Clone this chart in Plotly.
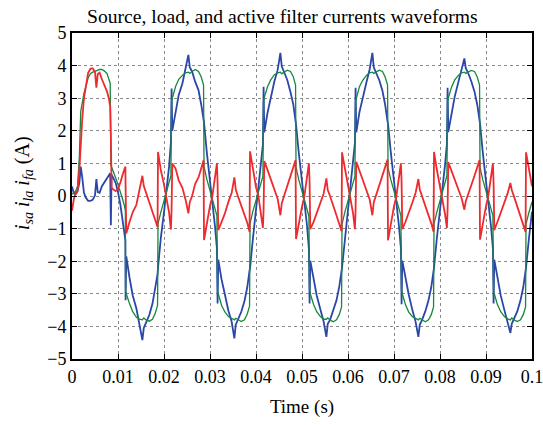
import plotly.graph_objects as go

# ---- data (time in s, currents in A) ----
t_start = [0.0000, 0.0004, 0.0008, 0.0012, 0.0016, 0.0019, 0.0022, 0.0026, 0.0030, 0.0035,
           0.0040, 0.0045, 0.0050, 0.0053, 0.0056, 0.0060, 0.0065, 0.0070, 0.0076, 0.0080,
           0.0083, 0.00845, 0.0086, 0.0090, 0.0095, 0.0100, 0.0105, 0.0110, 0.0114, 0.0116]
load_start = [0.05, 0.10, 0.15, 0.30, 1.20, 2.60, 2.90, 3.15, 3.35, 3.62,
              3.75, 3.80, 3.82, 3.84, 3.86, 3.88, 3.88, 3.84, 3.76, 3.62,
              3.46, 0.95, 0.90, 0.75, 0.55, 0.35, 0.15, -0.10, -0.30, -0.45]
source_start = [0.29, 0.08, 0.05, 0.15, 0.40, 0.90, 0.60, 0.10, -0.05, -0.15,
                -0.15, -0.12, 0.02, 0.52, 0.12, 0.10, 0.30, 0.42, 0.55, 0.62,
                0.70, -0.90, 0.65, 0.55, 0.40, 0.12, -0.25, -0.75, -1.15, -1.35]
filter_start = [-0.45, -0.10, 0.10, 0.15, 0.80, 1.70, 2.30, 3.00, 3.40, 3.77,
                3.90, 3.92, 3.80, 3.32, 3.74, 3.78, 3.58, 3.42, 3.21, 3.00,
                2.76, 1.85, 0.25, 0.20, 0.15, 0.23, 0.40, 0.65, 0.85, 0.90]

t_steady = [
    0.01165, 0.0118, 0.0125, 0.0132, 0.0140, 0.0147, 0.0153, 0.0156, 0.0161, 0.0168, 0.0175, 0.0181, 0.0186,
    0.0187, 0.0193, 0.0200, 0.0205, 0.0211, 0.0215, 0.02165, 0.0218, 0.0225, 0.0232, 0.0240, 0.0247, 0.0253, 0.0256, 0.0261, 0.0268, 0.0275, 0.0281, 0.0286,
    0.0287, 0.0293, 0.0300, 0.0305, 0.0311, 0.0315, 0.03165, 0.0318, 0.0325, 0.0332, 0.0340, 0.0347, 0.0353, 0.0356, 0.0361, 0.0368, 0.0375, 0.0381, 0.0386,
    0.0387, 0.0393, 0.0400, 0.0405, 0.0411, 0.0415, 0.04165, 0.0418, 0.0425, 0.0432, 0.0440, 0.0447, 0.0453, 0.0456, 0.0461, 0.0468, 0.0475, 0.0481, 0.0486,
    0.0487, 0.0493, 0.0500, 0.0505, 0.0511, 0.0515, 0.05165, 0.0518, 0.0525, 0.0532, 0.0540, 0.0547, 0.0553, 0.0556, 0.0561, 0.0568, 0.0575, 0.0581, 0.0586,
    0.0587, 0.0593, 0.0600, 0.0605, 0.0611, 0.0615, 0.06165, 0.0618, 0.0625, 0.0632, 0.0640, 0.0647, 0.0653, 0.0656, 0.0661, 0.0668, 0.0675, 0.0681, 0.0686,
    0.0687, 0.0693, 0.0700, 0.0705, 0.0711, 0.0715, 0.07165, 0.0718, 0.0725, 0.0732, 0.0740, 0.0747, 0.0753, 0.0756, 0.0761, 0.0768, 0.0775, 0.0781, 0.0786,
    0.0787, 0.0793, 0.0800, 0.0805, 0.0811, 0.0815, 0.08165, 0.0818, 0.0825, 0.0832, 0.0840, 0.0847, 0.0853, 0.0856, 0.0861, 0.0868, 0.0875, 0.0881, 0.0886,
    0.0887, 0.0893, 0.0900, 0.0905, 0.0911, 0.0915, 0.09165, 0.0918, 0.0925, 0.0932, 0.0940, 0.0947, 0.0953, 0.0956, 0.0961, 0.0968, 0.0975, 0.0981, 0.0986,
    0.0987, 0.0993, 0.1000]

load_steady = [
    -2.90, -3.00, -3.30, -3.55, -3.72, -3.78, -3.80, -3.74, -3.80, -3.84, -3.78, -3.60, -3.35,
    -0.85, -0.50, -0.15, 0.10, 0.40, 0.62, 2.90, 3.00, 3.35, 3.58, 3.70, 3.78, 3.80, 3.76, 3.82, 3.88, 3.82, 3.65, 3.40,
    0.90, 0.52, 0.15, -0.10, -0.40, -0.60, -2.90, -3.00, -3.35, -3.55, -3.70, -3.76, -3.80, -3.75, -3.80, -3.85, -3.80, -3.62, -3.38,
    -0.85, -0.48, -0.15, 0.12, 0.40, 0.60, 2.92, 3.02, 3.35, 3.56, 3.72, 3.78, 3.80, 3.75, 3.80, 3.86, 3.82, 3.66, 3.40,
    0.88, 0.50, 0.15, -0.12, -0.40, -0.62, -2.88, -3.00, -3.32, -3.55, -3.70, -3.78, -3.78, -3.74, -3.80, -3.86, -3.80, -3.64, -3.40,
    -0.86, -0.50, -0.14, 0.10, 0.42, 0.60, 2.90, 3.00, 3.36, 3.55, 3.70, 3.78, 3.80, 3.76, 3.80, 3.86, 3.82, 3.64, 3.40,
    0.86, 0.50, 0.14, -0.10, -0.42, -0.60, -2.90, -3.00, -3.34, -3.56, -3.70, -3.76, -3.80, -3.75, -3.80, -3.86, -3.80, -3.64, -3.40,
    -0.85, -0.50, -0.16, 0.10, 0.40, 0.62, 2.90, 3.00, 3.34, 3.56, 3.70, 3.78, 3.80, 3.76, 3.80, 3.85, 3.82, 3.65, 3.40,
    0.88, 0.50, 0.15, -0.10, -0.40, -0.60, -2.90, -3.00, -3.34, -3.55, -3.70, -3.77, -3.80, -3.74, -3.80, -3.85, -3.80, -3.64, -3.40,
    -0.86, -0.52, -0.18]

source_steady = [
    -3.20, -1.85, -2.50, -3.05, -3.45, -3.95, -4.42, -4.05, -3.90, -3.65, -3.30, -2.85, -2.40,
    -2.20, -1.30, -0.50, 0.12, 0.90, 1.65, 3.30, 2.00, 2.50, 3.10, 3.45, 3.90, 4.33, 3.95, 3.82, 3.50, 3.25, 2.80, 2.30,
    2.25, 1.35, 0.45, -0.08, -0.95, -1.60, -3.30, -1.95, -2.55, -3.00, -3.52, -3.85, -4.37, -3.95, -3.78, -3.55, -3.22, -2.80, -2.28,
    -2.22, -1.35, -0.42, 0.10, 0.98, 1.58, 3.35, 1.95, 2.55, 3.02, 3.52, 3.86, 4.39, 3.98, 3.80, 3.56, 3.18, 2.82, 2.30,
    2.20, 1.32, 0.48, -0.10, -0.92, -1.62, -3.30, -1.98, -2.52, -3.05, -3.48, -3.85, -4.32, -3.92, -3.80, -3.52, -3.20, -2.78, -2.32,
    -2.20, -1.38, -0.45, 0.08, 0.95, 1.62, 3.32, 1.95, 2.58, 3.05, 3.48, 3.88, 4.39, 3.95, 3.78, 3.55, 3.22, 2.78, 2.28,
    2.22, 1.35, 0.45, -0.08, -0.95, -1.60, -3.32, -1.98, -2.55, -3.02, -3.50, -3.86, -4.32, -3.95, -3.80, -3.54, -3.20, -2.80, -2.30,
    -2.20, -1.32, -0.46, 0.10, 0.96, 1.60, 3.32, 1.96, 2.55, 3.05, 3.50, 3.85, 4.22, 3.92, 3.78, 3.52, 3.20, 2.80, 2.30,
    2.22, 1.34, 0.46, -0.10, -0.95, -1.60, -3.30, -1.95, -2.55, -3.05, -3.50, -3.85, -4.20, -3.92, -3.78, -3.54, -3.20, -2.80, -2.30,
    -2.20, -1.35, -0.48]

filter_steady = [
    0.30, -1.15, -0.80, -0.50, -0.27, 0.17, 0.62, 0.31, 0.10, -0.19, -0.48, -0.75, -0.95,
    1.35, 0.80, 0.35, -0.02, -0.50, -1.03, -0.40, 1.00, 0.85, 0.48, 0.25, -0.12, -0.53, -0.19, 0.00, 0.38, 0.57, 0.85, 1.10,
    -1.35, -0.83, -0.30, -0.02, 0.55, 1.00, 0.40, -1.05, -0.80, -0.55, -0.18, 0.09, 0.57, 0.20, -0.02, -0.30, -0.58, -0.82, -1.10,
    1.37, 0.87, 0.27, 0.02, -0.58, -0.98, -0.43, 1.07, 0.80, 0.54, 0.20, -0.08, -0.59, -0.23, 0.00, 0.30, 0.64, 0.84, 1.10,
    -1.32, -0.82, -0.33, -0.02, 0.52, 1.00, 0.42, -1.02, -0.80, -0.50, -0.22, 0.07, 0.54, 0.18, 0.00, -0.34, -0.60, -0.86, -1.08,
    1.34, 0.88, 0.31, 0.02, -0.53, -1.02, -0.42, 1.05, 0.78, 0.50, 0.22, -0.10, -0.59, -0.19, 0.02, 0.31, 0.60, 0.86, 1.12,
    -1.36, -0.85, -0.31, -0.02, 0.53, 1.00, 0.42, -1.02, -0.79, -0.54, -0.20, 0.10, 0.52, 0.20, 0.00, -0.32, -0.60, -0.84, -1.10,
    1.35, 0.82, 0.30, 0.00, -0.56, -0.98, -0.42, 1.04, 0.79, 0.51, 0.20, -0.07, -0.42, -0.16, 0.02, 0.33, 0.62, 0.85, 1.10,
    -1.34, -0.84, -0.31, 0.00, 0.55, 1.00, 0.40, -1.05, -0.79, -0.50, -0.20, 0.08, 0.40, 0.18, -0.02, -0.31, -0.60, -0.84, -1.10,
    1.34, 0.83, 0.30]

x_tick_vals = [0, 0.01, 0.02, 0.03, 0.04, 0.05, 0.06, 0.07, 0.08, 0.09, 0.1]
x_tick_text = ["0", "0.01", "0.02", "0.03", "0.04", "0.05", "0.06", "0.07", "0.08", "0.09", "0.1"]
y_tick_vals = [-5, -4, -3, -2, -1, 0, 1, 2, 3, 4, 5]
y_tick_text = ["\u22125", "\u22124", "\u22123", "\u22122", "\u22121", "0", "1", "2", "3", "4", "5"]

t_all = t_start + t_steady
source_all = source_start + source_steady
load_all = load_start + load_steady
filter_all = filter_start + filter_steady

FONT = "Liberation Serif, Times New Roman, serif"

fig = go.Figure()
fig.add_trace(go.Scatter(x=t_all, y=source_all, mode="lines", name="i_sa",
                         line=dict(color="#2a47a8", width=1.8)))
fig.add_trace(go.Scatter(x=t_all, y=load_all, mode="lines", name="i_la",
                         line=dict(color="#15883a", width=1.3)))
fig.add_trace(go.Scatter(x=t_all, y=filter_all, mode="lines", name="i_fa",
                         line=dict(color="#ef2a2e", width=1.8)))

fig.update_layout(
    width=543, height=425,
    margin=dict(l=72, r=11, t=33, b=66, autoexpand=False),
    paper_bgcolor="white", plot_bgcolor="white",
    showlegend=False,
    font=dict(family=FONT, color="black", size=18),
    title=dict(text="Source, load, and active filter currents waveforms",
               x=0.52, xanchor="center", y=0.963, yanchor="middle",
               font=dict(family=FONT, size=19.6, color="black")),
    annotations=[dict(
        text="<i>i<sub>sa</sub> i<sub>la</sub> i<sub>fa</sub></i> (A)",
        xref="paper", yref="paper", x=-0.104, y=0.54,
        xanchor="center", yanchor="middle", textangle=-90, showarrow=False,
        font=dict(family=FONT, size=20, color="black"))],
)
axis_common = dict(
    showline=True, linecolor="black", linewidth=2, mirror="ticks",
    ticks="inside", ticklen=5, tickwidth=1, tickcolor="black",
    showgrid=True, gridcolor="#8a8a8a", gridwidth=1, griddash="dot",
    zeroline=False, automargin=False, ticklabeloverflow="allow",
    tickfont=dict(family=FONT, size=18, color="black"),
)
fig.update_xaxes(range=[0, 0.1], tickvals=x_tick_vals, ticktext=x_tick_text,
                 title=dict(text="Time (s)", font=dict(family=FONT, size=19), standoff=14),
                 **axis_common)
fig.update_yaxes(range=[-5, 5], tickvals=y_tick_vals, ticktext=y_tick_text,
                 **axis_common)

fig.write_html("out.html", config={"displayModeBar": False},
               post_script="document.body.style.margin='0';")
